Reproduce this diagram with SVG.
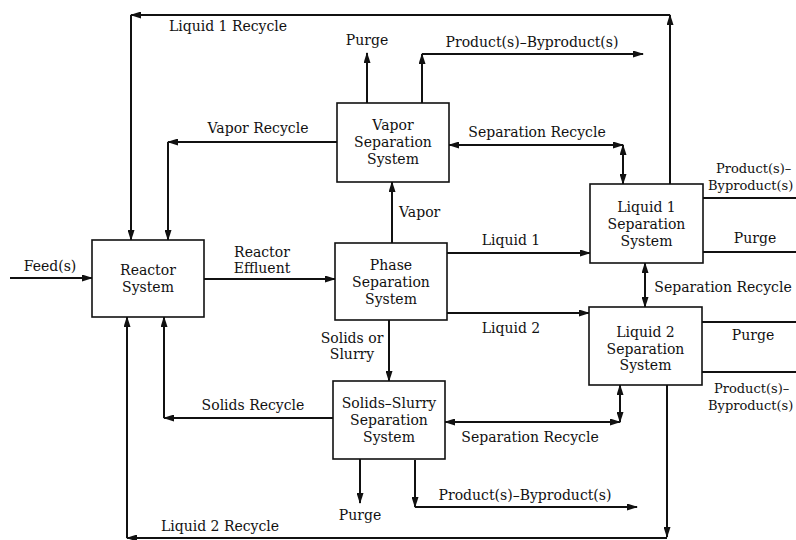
<svg xmlns="http://www.w3.org/2000/svg" width="796" height="540" viewBox="0 0 796 540">
<style>
.box{fill:#fff;stroke:#111;stroke-width:1.6}
.ln{fill:none;stroke:#111;stroke-width:2}
.a{marker-end:url(#ah)}
.d{marker-start:url(#ah);marker-end:url(#ah)}
text{font-family:"DejaVu Serif","Liberation Serif",serif;font-size:14px;fill:#111}
.c{text-anchor:middle}
.s{font-size:13px}
</style>
<defs>
<marker id="ah" markerUnits="userSpaceOnUse" markerWidth="11" markerHeight="7" refX="10" refY="3.5" orient="auto-start-reverse">
<path d="M0,0 L11,3.5 L0,7 z" fill="#111"/>
</marker>
</defs>
<rect width="796" height="540" fill="#fff"/>
<g id="connectors">
<path class="ln a" d="M10,278 H92"/>
<path class="ln a" d="M204,279 H335"/>
<path class="ln a" d="M392,243 V182"/>
<path class="ln a" d="M447,253 H590"/>
<path class="ln a" d="M447,313 H589"/>
<path class="ln a" d="M389,320 V381"/>
<path class="ln a" d="M337,142 H168"/>
<path class="ln a" d="M168,142 V240"/>
<path class="ln a" d="M670,184 V15"/>
<path class="ln a" d="M670,15 H131"/>
<path class="ln a" d="M131,15 V240"/>
<path class="ln a" d="M367,103 V53"/>
<path class="ln a" d="M422,103 V54"/>
<path class="ln a" d="M422,54 H643"/>
<path class="ln d" d="M449,145 H623"/>
<path class="ln d" d="M623,145 V184"/>
<path class="ln d" d="M645,263 V307"/>
<path class="ln d" d="M445,422 H620"/>
<path class="ln d" d="M620,422 V385"/>
<path class="ln" d="M703,198 H796"/>
<path class="ln" d="M703,252 H796"/>
<path class="ln" d="M702,322 H796"/>
<path class="ln" d="M702,372 H796"/>
<path class="ln a" d="M667,385 V537"/>
<path class="ln a" d="M667,538 H127"/>
<path class="ln a" d="M127,538 V317"/>
<path class="ln a" d="M333,418 H164"/>
<path class="ln a" d="M164,418 V317"/>
<path class="ln a" d="M360,459 V503"/>
<path class="ln a" d="M415,460 V507"/>
<path class="ln a" d="M415,507 H637"/>
</g>
<g id="reactor">
<rect class="box" x="92" y="240" width="112" height="77"/>
<text class="c" x="148" y="275">Reactor</text>
<text class="c" x="148" y="292">System</text>
</g>
<g id="vapor-sep">
<rect class="box" x="337" y="103" width="112" height="79"/>
<text class="c" x="393" y="130">Vapor</text>
<text class="c" x="393" y="147">Separation</text>
<text class="c" x="393" y="164">System</text>
</g>
<g id="phase-sep">
<rect class="box" x="335" y="243" width="112" height="77"/>
<text class="c" x="391" y="270">Phase</text>
<text class="c" x="391" y="287">Separation</text>
<text class="c" x="391" y="304">System</text>
</g>
<g id="liquid1-sep">
<rect class="box" x="590" y="184" width="113" height="79"/>
<text class="c" x="646.5" y="212">Liquid 1</text>
<text class="c" x="646.5" y="229">Separation</text>
<text class="c" x="646.5" y="246">System</text>
</g>
<g id="liquid2-sep">
<rect class="box" x="589" y="307" width="113" height="78"/>
<text class="c" x="645.5" y="337">Liquid 2</text>
<text class="c" x="645.5" y="354">Separation</text>
<text class="c" x="645.5" y="370">System</text>
</g>
<g id="solids-sep">
<rect class="box" x="333" y="381" width="112" height="78"/>
<text class="c" x="389" y="408">Solids–Slurry</text>
<text class="c" x="389" y="425">Separation</text>
<text class="c" x="389" y="442">System</text>
</g>
<g id="labels">
<text class="c" x="50" y="271">Feed(s)</text>
<text class="c" x="262" y="257">Reactor</text>
<text class="c" x="262" y="273">Effluent</text>
<text x="399" y="217">Vapor</text>
<text class="c" x="511" y="245">Liquid 1</text>
<text class="c" x="511" y="333">Liquid 2</text>
<text class="c" x="352" y="343">Solids or</text>
<text class="c" x="352" y="359">Slurry</text>
<text class="c" x="258" y="133">Vapor Recycle</text>
<text class="c" x="228" y="31">Liquid 1 Recycle</text>
<text class="c" x="367" y="45">Purge</text>
<text class="c" x="532" y="47">Product(s)–Byproduct(s)</text>
<text class="c" x="537" y="137">Separation Recycle</text>
<text class="s" x="716" y="173">Product(s)–</text>
<text class="s" x="708" y="190">Byproduct(s)</text>
<text class="c" x="755" y="243">Purge</text>
<text class="c" x="723" y="292">Separation Recycle</text>
<text class="c" x="753" y="340">Purge</text>
<text class="s" x="714" y="393">Product(s)–</text>
<text class="s" x="708" y="410">Byproduct(s)</text>
<text class="c" x="253" y="410">Solids Recycle</text>
<text class="c" x="530" y="442">Separation Recycle</text>
<text class="c" x="360" y="520">Purge</text>
<text class="c" x="525" y="500">Product(s)–Byproduct(s)</text>
<text class="c" x="220" y="531">Liquid 2 Recycle</text>
</g>
</svg>
